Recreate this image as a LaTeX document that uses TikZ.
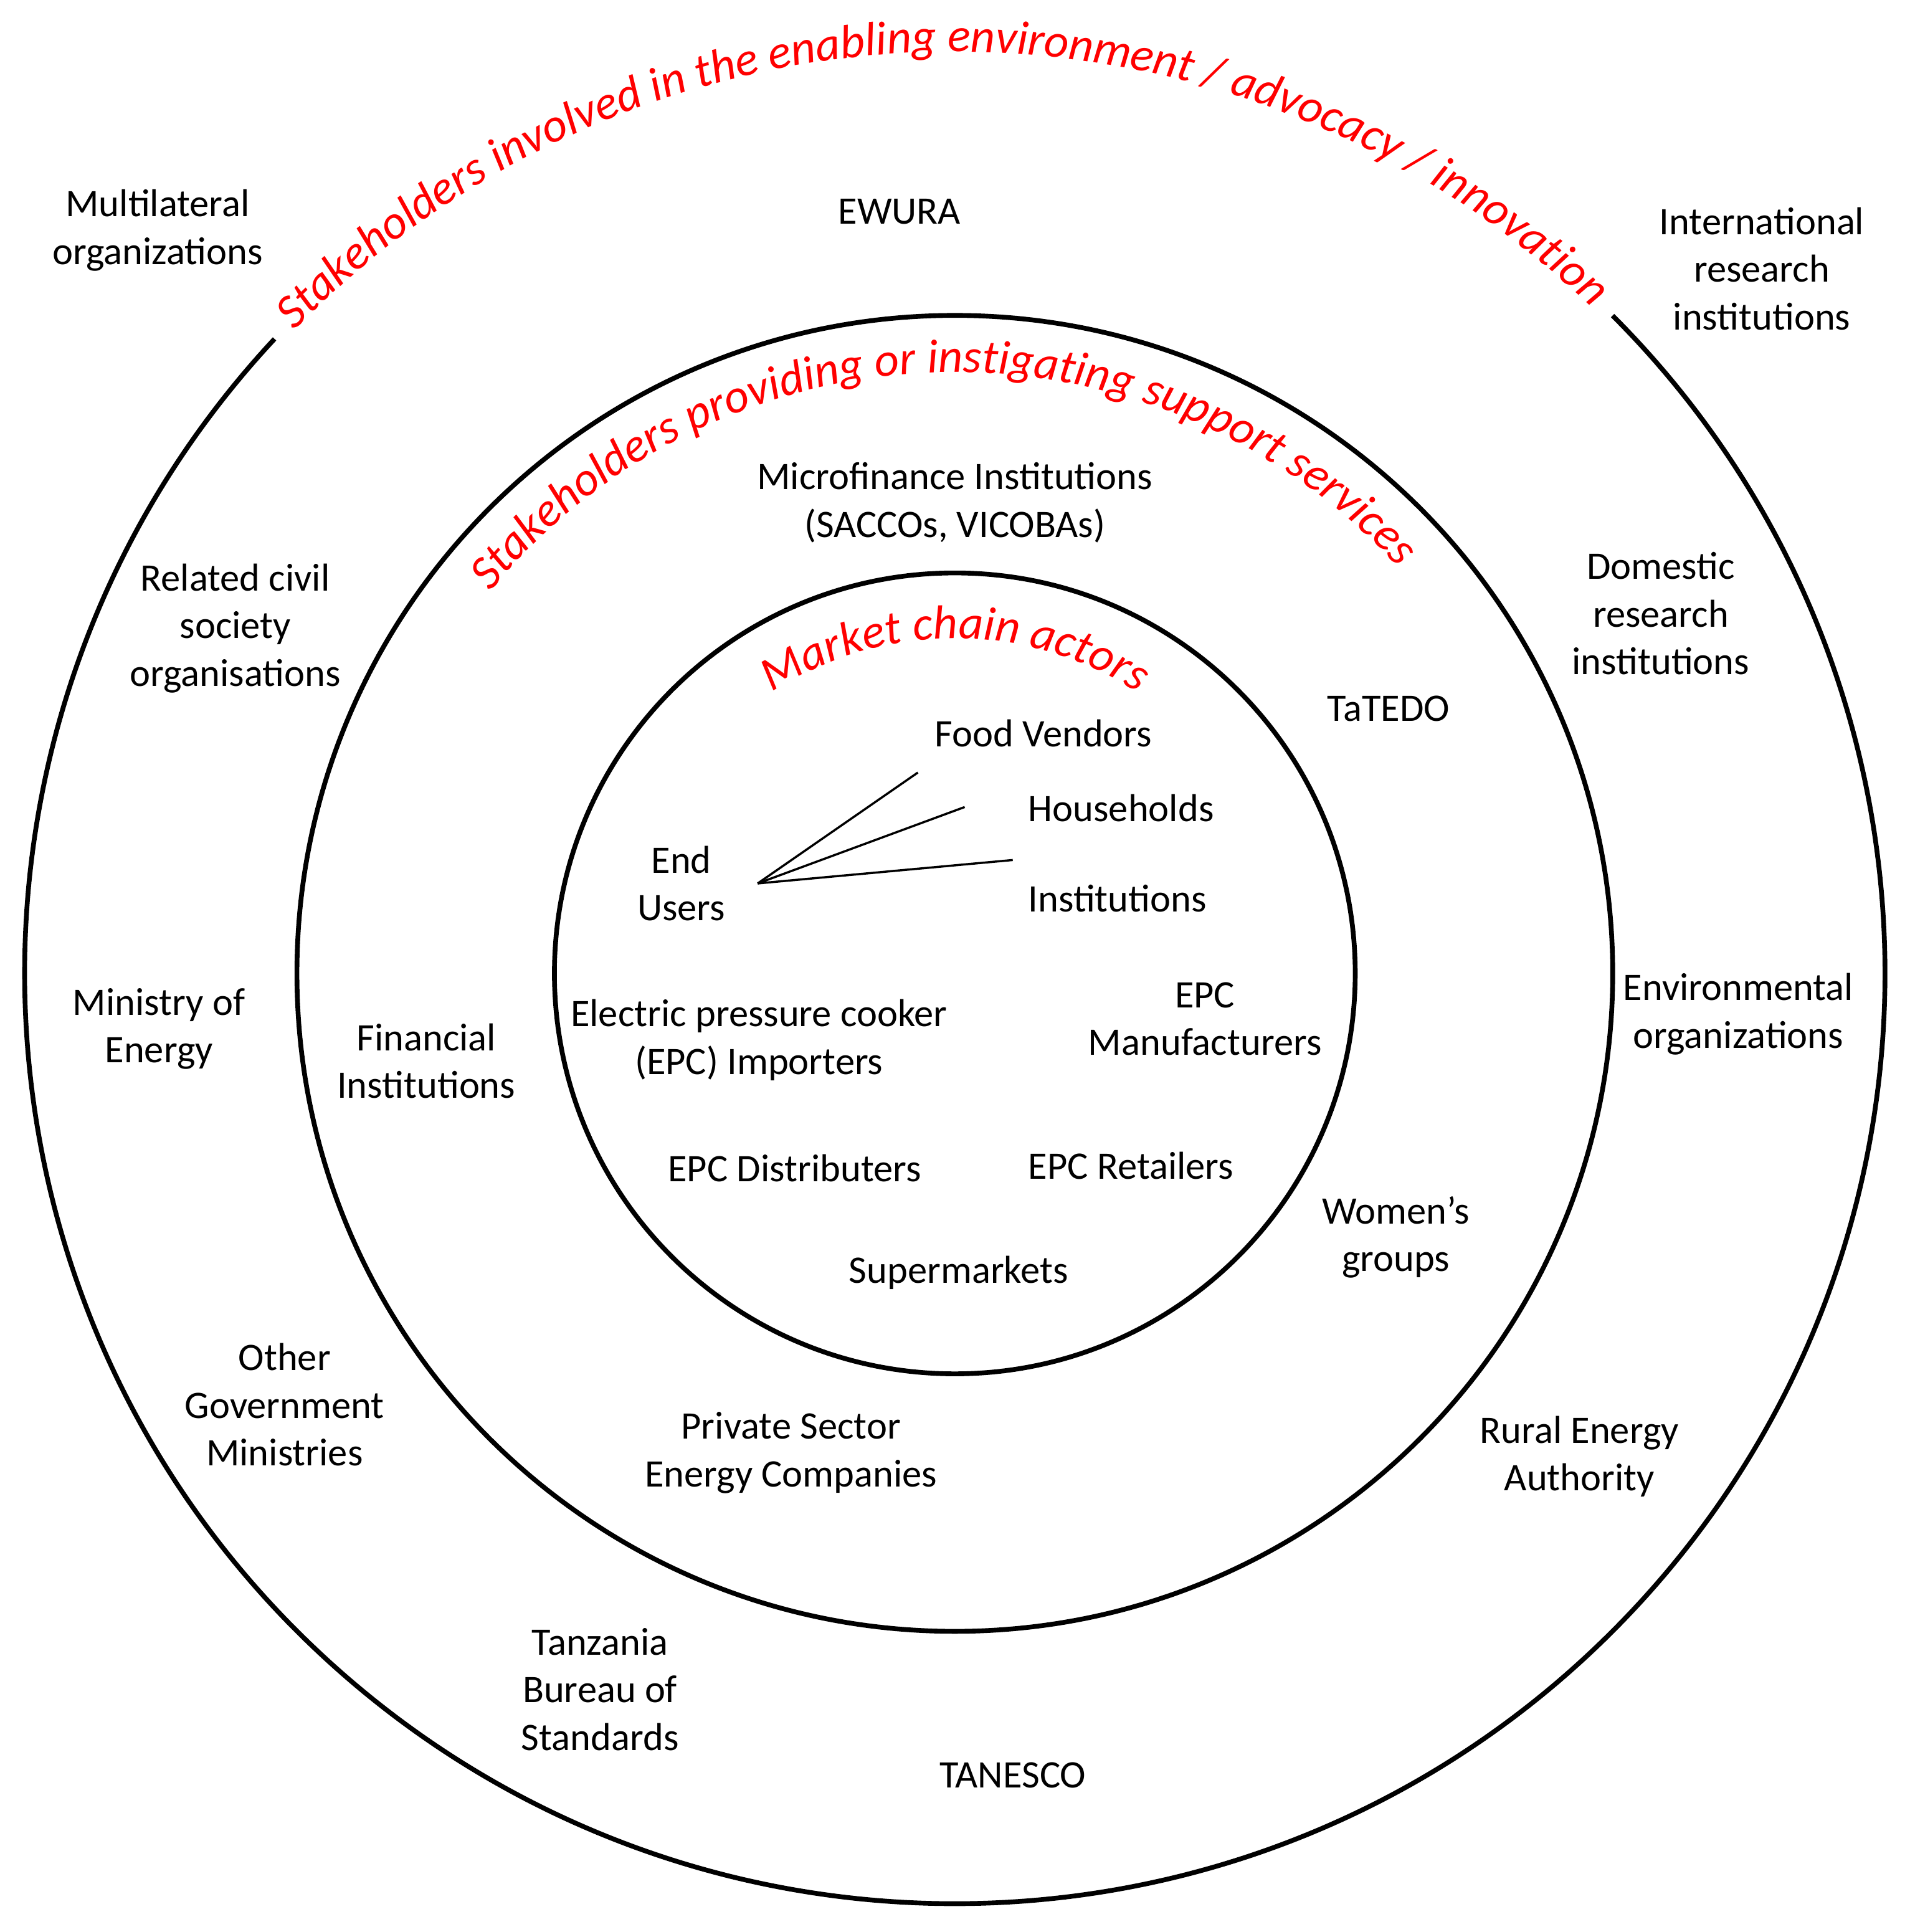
\documentclass[tikz,border=0pt]{standalone}
\usepackage{fontspec}
\setmainfont{Carlito}
\usetikzlibrary{decorations.text}
\begin{document}
\begin{tikzpicture}[x=0.02cm,y=0.02cm,
  lab/.style={align=center,font=\fontsize{18}{22}\selectfont,inner sep=0pt},
  ring/.style={line width=2.2pt},
  ln/.style={line width=1pt},
  red/.style={}]
\useasboundingbox (0,0) rectangle (1550,1568);
\coordinate (c) at (775,778);
% circles
\draw[ring] (c) ++(137:755) arc (137:405:755);
\draw[ring] (c) circle (534);
\draw[ring] (c) circle (325);
% curved titles
\path[decorate,decoration={text along path,text align=center,
  text={|\fontsize{22}{26}\selectfont\itshape\color{red}|Stakeholders involved in the enabling environment / advocacy / innovation}}]
  (c) ++(139:748) arc (139:43:748);
\path[decorate,decoration={text along path,text align=center,
  text={|\fontsize{22}{26}\selectfont\itshape\color{red}|Stakeholders providing or instigating support services}}]
  (c) ++(143:488) arc (143:40:488);
\path[decorate,decoration={text along path,text align=center,
  text={|\fontsize{22}{26}\selectfont\itshape\color{red}|Market chain actors}}]
  (c) ++(125:272) arc (125:55:272);
% labels
\node[lab] (mo) at (128,1381) {Multilateral\\organizations};
\node[lab] (ew) at (730,1396) {EWURA};
\node[lab] (iri) at (1430,1350) {International\\research\\institutions};
\node[lab] (rcs) at (191,1058) {Related civil\\society\\organisations};
\node[lab] (mfi) at (775,1160) {Microfinance Institutions\\(SACCOs, VICOBAs)};
\node[lab] (dri) at (1348,1070) {Domestic\\research\\institutions};
\node[lab] (tat) at (1127,993) {TaTEDO};
\node[lab] (fv) at (847,973) {Food Vendors};
\node[lab] (hh) at (910,912) {Households};
\node[lab] (ins) at (907,839) {Institutions};
\node[lab] (eu) at (553,851) {End\\Users};
\node[lab] (moe) at (129,733) {Ministry of\\Energy};
\node[lab] (fi) at (346,707) {Financial\\Institutions};
\node[lab] (imp) at (616,724) {Electric pressure cooker\\(EPC) Importers};
\node[lab] (man) at (978,741) {EPC\\Manufacturers};
\node[lab] (env) at (1411,745) {Environmental\\organizations};
\node[lab] (dis) at (645,620) {EPC Distributers};
\node[lab] (ret) at (918,622) {EPC Retailers};
\node[lab] (wg) at (1133,564) {Women’s\\groups};
\node[lab] (sup) at (778,535) {Supermarkets};
\node[lab] (ogm) at (231,428) {Other\\Government\\Ministries};
\node[lab] (pse) at (642,389) {Private Sector\\Energy Companies};
\node[lab] (rea) at (1282,386) {Rural Energy\\Authority};
\node[lab] (tbs) at (487,197) {Tanzania\\Bureau of\\Standards};
\node[lab] (tan) at (822,127) {TANESCO};
% connectors
\coordinate (hub) at (615,851);
\coordinate (e1) at (745,941);
\coordinate (e2) at (783,913);
\coordinate (e3) at (822,870);
\draw[ln] (hub) -- (e1);
\draw[ln] (hub) -- (e2);
\draw[ln] (hub) -- (e3);
\end{tikzpicture}
\end{document}
